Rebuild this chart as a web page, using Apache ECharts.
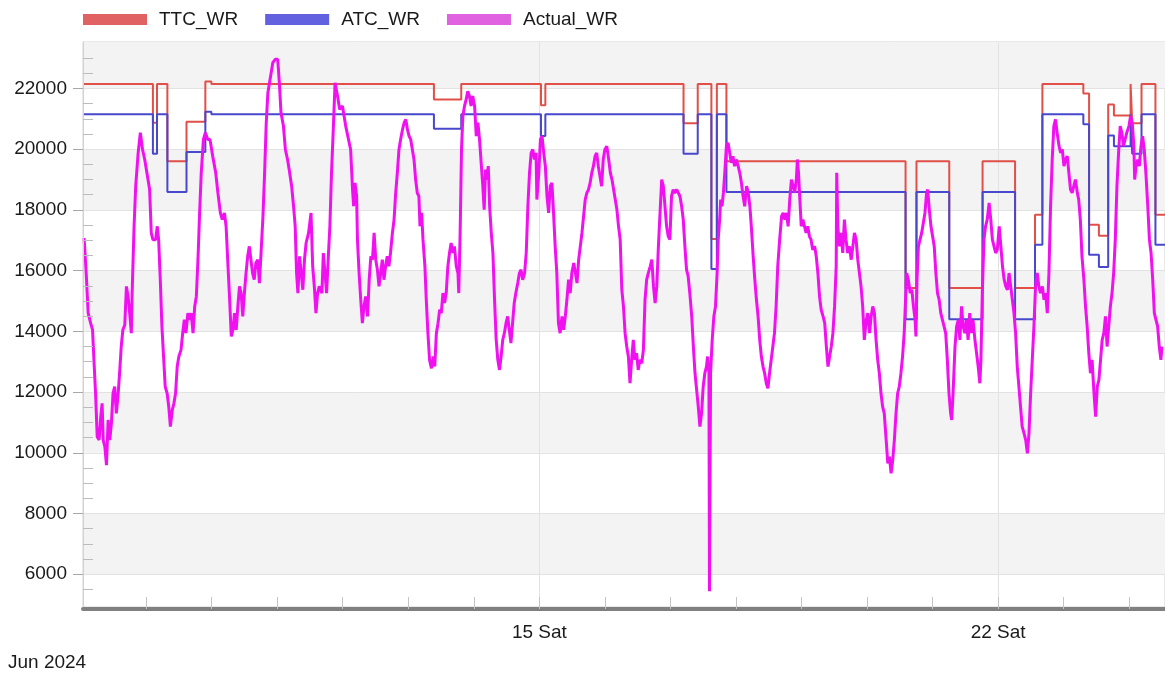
<!DOCTYPE html>
<html>
<head>
<meta charset="utf-8">
<script src="https://cdn.jsdelivr.net/npm/echarts@6/dist/echarts.min.js"></script>
<style>
html,body{margin:0;padding:0;background:#ffffff;}
#chart{width:1165px;height:675px;}
</style>
</head>
<body>
<div id="chart"></div>
<script>
// ---------- DATA (x = hours counted from 8 Jun 2024 00:00) ----------
const seriesNames = ['TTC_WR', 'ATC_WR', 'Actual_WR'];
const axisStartHour = 0.9;
const axisEndHour = 397.1;

// step breakpoints: value holds from this hour until the next one
const stepHours = [0.9, 26.5, 28.0, 31.8, 38.8, 45.7, 47.9, 129.4, 139.4, 168.6, 170.2, 220.8, 226.0, 231.0, 233.0, 236.5,
  302.1, 306.1, 318.1, 330.3, 342.2, 349.5, 352.2, 367.2, 369.3, 372.9, 376.3, 378.4, 384.5, 385.1, 388.5, 393.6, 397.1];
const ttcValues = [22150, 20870, 22150, 19600, 20900, 22230, 22150, 21640, 22150, 21450, 22150, 20850, 22150, 17040, 22150, 19600,
  15430, 19600, 15430, 19600, 15430, 17840, 22150, 21830, 17510, 17150, 21470, 21110, 22150, 20850, 22150, 17840, 17840];
const atcValues = [21150, 19850, 21150, 18590, 19910, 21230, 21150, 20670, 21150, 20430, 21150, 19850, 21150, 16050, 21150, 18590,
  14400, 18590, 14400, 18590, 14400, 16850, 21150, 20820, 16520, 16120, 20450, 20100, 21150, 19850, 21150, 16850, 16850];

// [hour, value]
const actualWR = [
[1.3,17070],[2.0,16030],[2.8,14600],[3.7,14270],[4.4,14050],[4.9,13060],[5.5,11960],[6.1,10530],[6.8,10420],[7.4,11190],
[7.9,11630],[8.3,10420],[8.9,10200],[9.5,9590],[10.1,11080],[10.7,10420],[11.3,10970],[11.9,11960],[12.5,12180],[13.1,11300],
[13.7,11850],[14.3,12620],[14.9,13500],[15.5,14050],[16.2,14210],[16.8,15480],[17.4,15150],[18.0,14600],[18.6,13940],[18.9,15260],
[19.6,17460],[20.2,18780],[21.1,19880],[21.9,20540],[22.7,19990],[23.5,19660],[24.1,19330],[24.7,19000],[25.3,18670],[25.9,17240],
[26.5,17020],[27.5,17020],[28.1,17460],[28.6,17020],[29.2,15700],[29.8,14160],[30.4,13170],[31.0,12180],[31.7,11960],[32.3,11520],
[32.9,10860],[33.6,11410],[34.2,11630],[34.8,11960],[35.4,12840],[36.0,13170],[36.8,13390],[37.4,13940],[38.0,14380],[38.6,13940],
[39.3,14600],[39.9,14380],[40.5,14600],[41.2,13940],[41.8,14820],[42.4,15150],[43.0,16360],[43.6,17900],[44.2,19220],[45.0,20320],
[45.7,20540],[46.6,20320],[47.4,20320],[48.4,19770],[49.5,19220],[50.3,18560],[51.2,17900],[51.9,17680],[52.7,17900],[53.3,17460],
[54.0,16140],[54.6,15040],[55.2,13830],[55.8,14050],[56.4,14600],[57.0,14050],[57.6,14820],[58.2,15480],[58.8,15260],[59.4,14490],
[60.0,15260],[60.6,15920],[61.2,16470],[61.8,16800],[62.4,16360],[63.0,15920],[63.6,15700],[64.2,16250],[64.9,16360],[65.5,15590],
[66.1,16580],[66.8,17790],[67.4,19220],[68.0,20870],[68.6,21860],[69.2,22190],[69.8,22520],[70.4,22850],[71.3,22960],[72.2,22960],
[72.8,22190],[73.4,21200],[74.3,20760],[75.0,19990],[75.8,19660],[76.4,19330],[77.3,18780],[78.0,18120],[78.6,17460],[79.1,15920],
[79.6,15260],[80.2,16470],[80.8,15920],[81.4,15370],[82.0,16360],[82.6,16910],[83.5,17240],[84.4,17900],[85.0,16140],[85.6,15480],
[86.2,14600],[86.8,15260],[87.4,15480],[88.4,15260],[88.9,16580],[89.5,15920],[90.1,15260],[90.8,16580],[91.3,17460],[91.9,19220],
[92.5,20540],[93.2,22190],[94.1,21750],[94.9,21310],[95.9,21420],[96.5,21090],[97.1,20760],
[98.9,19990],[99.6,18670],[100.0,18120],[100.5,18890],[101.1,18450],[101.4,17020],[102.0,15920],[102.6,15040],[103.2,14270],[103.8,14820],
[104.4,15150],[105.1,14490],[105.7,15700],[106.3,16470],[106.9,16360],[107.5,17240],[108.1,16360],[108.7,16030],[109.3,15480],[109.9,15920],
[110.5,16360],[111.1,15700],[111.7,16140],[112.3,16470],[112.9,16140],[113.5,16580],[114.2,17240],[114.8,17680],[115.4,18560],[116.0,19220],
[116.6,19990],[117.2,20320],[117.9,20650],[118.5,20870],[119.1,20980],[119.7,20650],[120.3,20430],[120.9,20320],[121.5,19990],[122.1,19660],
[122.7,19000],[123.3,18560],[123.9,18450],[124.3,17460],[124.9,17900],[125.4,17020],[126.1,16140],[126.6,15040],[127.2,13940],[127.8,13060],
[128.5,12780],[129.1,13170],[129.7,12840],[130.3,13940],[130.9,14270],[131.5,14710],[132.1,14600],[132.7,15260],[133.3,14930],[133.9,15260],
[134.5,16140],[135.1,16580],[135.7,16910],[136.3,16580],[136.9,16800],[137.6,16140],[138.2,15920],[138.5,15260],[139.0,17240],[139.5,19990],
[140.0,21090],[140.6,21420],[141.2,21640],[141.8,21910],[142.4,21750],[143.0,21420],[143.6,21750],[144.3,21420],[144.9,20430],[145.5,20870],
[146.1,20320],[146.7,19550],[147.3,18780],[147.8,18010],[148.3,19330],[148.8,19000],[149.3,19440],[149.8,18120],[150.4,17240],[151.0,16580],
[151.6,15040],[152.2,13720],[152.8,13060],[153.4,12730],[154.0,13170],[154.6,13720],[155.2,13940],[155.8,14270],[156.4,14490],[157.0,14050],
[157.6,13610],[158.2,14270],[158.8,14930],[159.4,15260],[160.1,15590],[160.7,15920],[161.3,16030],[161.9,15700],[162.6,15920],[163.2,16580],
[163.8,18120],[164.4,19220],[165.0,19880],[165.6,19990],[166.2,19660],[166.8,19880],[167.1,18340],[167.8,19220],[168.4,20320],[169.0,20430],
[169.6,19880],[170.2,19440],[170.8,18450],[171.4,17900],[172.0,18780],[172.6,18890],[173.2,17900],[173.8,16800],[174.4,15920],[175.0,14270],
[175.6,13940],[176.3,14490],[176.9,14050],[177.5,14490],[178.1,15040],[178.7,15700],[179.3,15260],[179.9,15920],[180.6,16250],[181.2,15920],
[181.8,15590],[182.4,16360],[183.0,16800],[183.6,17240],[184.2,17790],[184.8,18340],[185.4,18560],[186.0,18670],[186.6,18890],[187.2,19220],
[187.8,19440],[188.4,19770],[189.0,19880],[189.6,19440],[190.2,19110],[190.8,18780],[191.4,19660],[192.0,19990],[192.7,20100],[193.4,19660],
[194.0,19220],[194.6,19000],[195.2,18670],[195.8,18340],[196.4,18010],[197.0,17460],
[197.6,17020],[198.2,15370],[198.8,14820],[199.4,13940],[200.0,13500],[200.6,13170],[201.2,12290],[201.8,13060],[202.4,13720],[203.0,13060],
[203.6,13280],[204.2,12730],[204.8,13060],[205.5,12950],[206.1,13390],[206.7,15040],[207.3,15700],[207.9,15920],[208.6,16140],[209.2,16360],
[209.8,15480],[210.4,14930],[211.0,15480],[211.6,16800],[212.2,17900],[212.8,19000],[213.4,18780],[214.0,18120],[214.6,17460],[215.2,17130],
[215.8,17020],[216.4,18450],[217.0,18670],[217.6,18560],[218.3,18670],[218.9,18560],[219.5,18450],[220.1,18120],[220.7,17680],[221.3,16800],
[221.9,16030],[222.5,15810],[223.1,15260],[223.8,14490],[224.4,13500],[225.0,12620],[225.6,12070],[226.2,11520],[226.8,10860],[227.4,11300],
[228.0,12180],[228.6,12620],[229.2,12840],[229.6,13170],[230.1,12620],[230.3,5440],[230.7,12620],[231.3,13720],[231.9,14490],[232.5,14820],
[233.1,15920],[233.5,17020],[234.1,17790],[234.4,18340],[234.9,18120],[235.4,18560],[235.9,19220],[236.5,20100],[237.1,20210],[237.7,19880],
[238.3,19550],[238.9,19770],[239.5,19440],[240.1,19660],[240.8,19440],[241.4,19220],[242.0,18890],[242.6,18450],[243.2,18120],[243.9,18780],
[244.5,18560],[245.1,18120],[245.7,17350],[246.3,16470],[246.9,15700],[247.5,15040],[248.1,14490],[248.7,13720],[249.3,13170],[249.9,12840],
[250.5,12620],[251.1,12290],[251.7,12120],[252.3,12620],[252.9,13060],[253.5,13500],[254.1,13940],[254.7,14820],[255.3,16140],[256.0,17020],
[256.7,17790],[257.3,17900],[257.9,17680],[258.5,17900],[259.1,17460],[259.7,18340],[260.3,19000],[260.9,18780],[261.5,18560],[262.1,19000],
[262.5,19660],[262.9,19220],[263.4,18340],[263.9,17460],[264.5,17680],[265.1,17460],[265.7,17240],[266.3,17460],[266.9,17130],[267.5,17020],
[268.1,16690],[268.8,16800],[269.4,16470],[270.0,15920],[270.6,15150],[271.2,14710],[271.9,14490],[272.5,14270],[273.1,13500],[273.7,12840],
[274.3,13170],[274.9,13500],[275.5,13940],[276.1,14820],[276.7,16140],[276.9,19220],[277.3,17460],[277.9,16800],[278.5,17240],[279.1,16580],
[279.7,17680],[280.3,17020],[280.9,16580],[281.5,16800],[282.2,16360],[282.8,16800],[283.4,17240],[284.0,17020],[284.6,16360],[285.2,15920],
[285.8,15480],[286.4,14820],[287.0,13720],[287.7,14380],[288.3,14600],[288.9,13940],[289.5,14490],[290.1,14820],[290.7,14600],[291.3,13720],
[291.9,13060],[292.5,12620],[293.1,11960],[293.7,11520],
[294.3,11300],[295.0,10420],[295.6,9650],[296.2,9870],[296.8,9320],[297.4,9760],[298.0,10420],[298.6,11300],[299.2,11960],[299.8,12180],
[300.4,12620],[301.0,13170],[301.6,13940],[302.0,14820],[302.5,15920],[303.1,15700],[303.8,15260],[304.4,15370],[305.0,14820],[305.6,14380],
[305.9,13830],[306.3,15700],[306.8,16800],[307.4,16800],[308.0,17240],[308.6,17570],[309.2,17900],[309.8,18560],[310.2,18670],[310.8,18010],
[311.4,17460],[312.0,17130],[312.6,16800],[313.2,15920],[313.8,15260],[314.4,15040],[315.0,14600],[315.6,14380],[316.2,14160],[316.8,13940],
[317.4,13060],[318.0,11960],[318.6,11300],[319.0,11080],[319.5,11960],[320.2,13500],[320.8,14160],[321.4,14380],[322.0,13720],[322.6,14820],
[323.2,14160],[323.8,13940],[324.4,14380],[325.0,13720],[325.6,14600],[326.2,13940],[326.8,14380],[327.5,13720],[328.1,13280],[328.7,12840],
[329.3,12290],[329.7,13060],[330.2,15260],[330.8,17020],[331.4,17460],[332.0,17680],[332.7,18230],[333.3,17680],[333.9,17020],[334.5,16800],
[335.1,16580],[335.7,16690],[336.4,17460],[337.0,16800],[337.6,16140],[338.2,15700],[338.8,15480],[339.4,15370],[340.0,15920],[340.6,15480],
[341.2,15040],[341.8,14600],[342.4,13940],[343.0,12840],[343.6,12180],[344.2,11520],[344.8,10860],[345.5,10640],[346.1,10420],[346.7,9980],
[347.3,10640],[347.9,11960],[348.5,13060],[349.1,14160],[349.7,15480],[350.3,15920],[350.9,15480],[351.5,15260],[352.2,15480],[352.8,15040],
[353.4,15260],[354.0,14600],[354.6,15920],[355.2,18120],[355.8,19660],[356.4,20760],[357.0,20980],[357.6,20540],[358.3,20100],[358.9,19880],
[359.5,19990],[360.1,19440],[360.7,19660],[361.3,19770],[361.9,19220],[362.5,18670],[363.1,18560],[363.7,18780],[364.3,19000],[365.0,18560],
[365.5,18340],[366.1,17680],[366.7,16470],[367.4,15700],[368.0,14820],[368.6,14160],[369.2,13280],[369.8,12620],[370.4,13060],[371.1,11960],
[371.7,11190],[372.3,12180],[372.9,12400],[373.5,13060],[374.1,13720],[374.7,13940],[375.3,14490],[375.9,13500],[376.5,14160],[377.1,14820],
[377.7,15260],[378.3,15920],[378.9,17020],[379.5,18780],[380.1,19880],[380.7,20760],[381.3,20540],[381.9,20100],[382.5,20320],[383.1,20540],
[383.9,20760],[384.5,21090],[385.1,20870],[385.7,20100],[386.0,19000],[386.5,19440],[387.1,19660],[387.7,19440],[388.3,20100],[388.9,20430],
[389.5,19990],[390.1,19220],[390.8,18120],[391.4,17020],[392.0,16580],[392.6,15700],[393.2,14600],[393.8,14380],[394.4,14160],[395.0,13500],
[395.6,13060],[396.0,13500]
];

const yMin = 4920, yMax = 23530;
const yTickValues = [6000, 8000, 10000, 12000, 14000, 16000, 18000, 20000, 22000];
const yMinorFrom = 5500, yMinorTo = 23000, yMinorStep = 500;
const xTickDays = [9, 10, 11, 12, 13, 14, 15, 16, 17, 18, 19, 20, 21, 22, 23, 24];
const xLabelDays = [15, 22];
const weekdayNames = ['Sun', 'Mon', 'Tue', 'Wed', 'Thu', 'Fri', 'Sat'];
const monthLabel = 'Jun 2024';

// ---------- helpers ----------
const base = new Date(2024, 5, 8).getTime();
const dayHour = d => (d - 8) * 24;            // hour offset of a June day at midnight
const stepData = vals => stepHours.map((h, i) => [h, vals[i]]);

const minorTicks = [];
for (let v = yMinorFrom; v <= yMinorTo; v += yMinorStep) {
  if (yTickValues.indexOf(v) < 0) minorTicks.push(v);
}
const bandData = [];
for (let i = 0; i < yTickValues.length; i += 2) {
  bandData.push([{ yAxis: yTickValues[i] }, { yAxis: i + 1 < yTickValues.length ? yTickValues[i + 1] : yMax }]);
}
const gridLineData = yTickValues.map(v => ({ yAxis: v }))
  .concat(xLabelDays.map(d => ({ xAxis: dayHour(d) })));

const FONT = '"Liberation Sans", Arial, Helvetica, sans-serif';
const TXT = '#1a1a1a';

const chart = echarts.init(document.getElementById('chart'));
chart.setOption({
  animation: false,
  textStyle: { fontFamily: FONT },
  legend: {
    left: 83, top: 10, padding: 0,
    icon: 'rect', itemWidth: 64, itemHeight: 11, itemGap: 27,
    textStyle: { fontSize: 19, color: TXT, fontFamily: FONT, padding: [0, 0, 0, 7] },
    data: [
      { name: seriesNames[0], itemStyle: { color: '#e06262' } },
      { name: seriesNames[1], itemStyle: { color: '#6262e0' } },
      { name: seriesNames[2], itemStyle: { color: '#e062e0' } }
    ]
  },
  grid: { left: 83, right: -3, top: 42, bottom: 68, show: true, borderColor: '#d2d2d2', borderWidth: 1, backgroundColor: 'transparent' },
  xAxis: {
    type: 'value',
    min: axisStartHour, max: axisEndHour,
    offset: 2, z: 10,
    axisLine: { show: true, lineStyle: { color: '#808080', width: 4 } },
    axisTick: { show: true, inside: true, length: 12, lineStyle: { color: '#c4c4c4', width: 1 }, customValues: xTickDays.map(dayHour) },
    axisLabel: {
      customValues: xLabelDays.map(dayHour),
      fontSize: 19, color: TXT, fontFamily: FONT, margin: 14,
      formatter: v => { const d = new Date(base + v * 3600000); return d.getDate() + ' ' + weekdayNames[d.getDay()]; }
    },
    splitLine: { show: false }
  },
  yAxis: [
    {
      type: 'value', min: yMin, max: yMax, position: 'left', z: 10,
      axisLine: { show: true, lineStyle: { color: '#d2d2d2' } },
      axisTick: { show: true, length: 10, lineStyle: { color: '#a8a8a8' }, customValues: yTickValues },
      axisLabel: { customValues: yTickValues, fontSize: 19, color: TXT, fontFamily: FONT, margin: 16, formatter: v => String(v) },
      splitLine: { show: false }, splitArea: { show: false }
    },
    {
      type: 'value', min: yMin, max: yMax, position: 'left', z: 10,
      axisLine: { show: false },
      axisTick: { show: true, inside: true, length: 10, lineStyle: { color: '#bcbcbc' }, customValues: minorTicks },
      axisLabel: { show: false },
      splitLine: { show: false }, splitArea: { show: false }
    }
  ],
  graphic: [{
    type: 'text', left: 8, top: 653,
    style: { text: monthLabel, fontSize: 19, fill: TXT, fontFamily: FONT }
  }],
  series: [
    {
      name: seriesNames[0], type: 'line', step: 'end', data: stepData(ttcValues),
      showSymbol: false, symbol: 'none', z: 3,
      lineStyle: { color: '#e05048', width: 2 }, itemStyle: { color: '#e05048' }
    },
    {
      name: seriesNames[1], type: 'line', step: 'end', data: stepData(atcValues),
      showSymbol: false, symbol: 'none', z: 3,
      lineStyle: { color: '#4848cc', width: 2 }, itemStyle: { color: '#4848cc' }
    },
    {
      name: seriesNames[2], type: 'line', data: actualWR,
      showSymbol: false, symbol: 'none', z: 4,
      lineStyle: { color: '#f010f0', width: 3 }, itemStyle: { color: '#f010f0' }
    },
    {
      name: 'bands', type: 'line', data: [], silent: true, z: 1,
      markArea: { silent: true, z: 1, itemStyle: { color: '#f3f3f3' }, data: bandData },
      markLine: { silent: true, z: 1, symbol: 'none', label: { show: false },
        lineStyle: { color: '#e2e2e2', width: 1, type: 'solid' }, data: gridLineData }
    }
  ]
});
</script>
</body>
</html>
